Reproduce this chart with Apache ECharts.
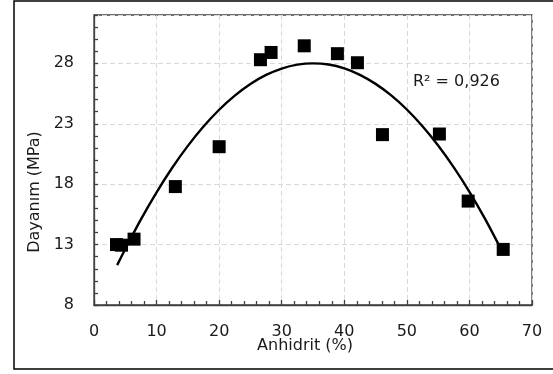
<!DOCTYPE html>
<html>
<head>
<meta charset="utf-8">
<script src="https://cdn.jsdelivr.net/npm/echarts@6/dist/echarts.min.js"></script>
<style>
  html, body { margin: 0; padding: 0; background: #fff; }
  #c1 { width: 553px; height: 374px; }
</style>
</head>
<body>
<div id="c1"></div>
<script>
// measured points
var anhidrit = [3.6, 4.4, 6.4, 13.0, 20.0, 26.6, 28.3, 33.6, 38.9, 42.1, 46.1, 55.2, 59.8, 65.4];
var dayanim = [13.0, 12.95, 13.45, 17.8, 21.1, 28.3, 28.9, 29.45, 28.8, 28.05, 22.1, 22.15, 16.6, 12.6];

// trend curve
var trendX = [3.7, 5, 7.5, 10, 12.5, 15, 17.5, 20, 22.5, 25, 27.5, 30, 32.5, 35,
  37.5, 40, 42.5, 45, 47.5, 50, 52.5, 55, 57.5, 60, 62.5, 65.4];
var trendY = [11.3, 12.64, 15.09, 17.33, 19.36, 21.17, 22.77, 24.16, 25.33, 26.29, 27.04, 27.57, 27.89, 28.0,
  27.9, 27.58, 27.05, 26.3, 25.35, 24.18, 22.79, 21.2, 19.39, 17.37, 15.13, 12.27];

var xTicks = [0, 10, 20, 30, 40, 50, 60, 70];
var yTicks = [8, 13, 18, 23, 28];
var r2Text = "R² = 0,926";

var pts = anhidrit.map(function (x, i) { return [x, dayanim[i]]; });
var trend = trendX.map(function (x, i) { return [x, trendY[i]]; });

var font = "DejaVu Sans";
var fs = 16;
var chartDom_1 = document.getElementById("c1");
var myChart_1 = echarts.init(chartDom_1);
var option_1;

option_1 = {
  animation: false,
  textStyle: { fontFamily: font },
  grid: {
    left: 94, right: 21, top: 15, bottom: 69,
    show: true, borderColor: "#404040", borderWidth: 1.3
  },
  xAxis: {
    type: "value",
    min: xTicks[0], max: xTicks[xTicks.length - 1], interval: 10,
    axisLine: { lineStyle: { color: "#404040", width: 1.3 } },
    axisTick: { inside: true, length: 5, lineStyle: { color: "#404040", width: 1.3 } },
    minorTick: { show: true, splitNumber: 5, length: 4, lineStyle: { color: "#404040", width: 1.3 } },
    axisLabel: { color: "#1a1a1a", fontSize: fs, fontFamily: font, margin: 19 },
    splitLine: { show: true, lineStyle: { color: "#d9d9d9", type: [5, 3], width: 1 } }
  },
  yAxis: [
    {
      type: "value",
      min: yTicks[0], max: 32, interval: 5,
      axisLine: { show: true, lineStyle: { color: "#404040", width: 1.3 } },
      axisTick: { show: false },
      axisLabel: { color: "#1a1a1a", fontSize: fs, fontFamily: font, margin: 20, showMaxLabel: false },
      splitLine: { show: true, lineStyle: { color: "#d9d9d9", type: [5, 3], width: 1 } }
    },
    {
      type: "value",
      position: "left",
      min: yTicks[0], max: 32, interval: 1,
      axisLine: { show: false },
      axisTick: { show: true, inside: true, length: 4, lineStyle: { color: "#404040", width: 1.3 } },
      axisLabel: { show: false },
      splitLine: { show: false }
    }
  ],
  graphic: [
    {
      type: "rect",
      shape: { x: 14, y: 1, width: 560, height: 368 },
      style: { fill: "none", stroke: "#000", lineWidth: 1.5 },
      silent: true
    },
    {
      type: "text",
      x: 305, y: 346,
      style: { text: "Anhidrit (%)", font: fs + "px " + font, fill: "#1a1a1a", textAlign: "center", textVerticalAlign: "middle" }
    },
    {
      type: "text",
      x: 35, y: 192, rotation: Math.PI / 2,
      style: { text: "Dayanım (MPa)", font: fs + "px " + font, fill: "#1a1a1a", textAlign: "center", textVerticalAlign: "middle" }
    },
    {
      type: "text",
      x: 413, y: 82,
      style: { text: r2Text, font: fs + "px " + font, fill: "#1a1a1a", textAlign: "left", textVerticalAlign: "middle" }
    }
  ],
  series: [
    {
      name: "trend",
      type: "line",
      data: trend,
      smooth: 0.3,
      symbol: "none",
      lineStyle: { color: "#000", width: 2.4 },
      z: 2
    },
    {
      name: "Dayanım",
      type: "scatter",
      data: pts,
      symbol: "rect",
      symbolSize: 13,
      itemStyle: { color: "#000", opacity: 1 },
      z: 3
    }
  ]
};

option_1 && myChart_1.setOption(option_1, true);
</script>
</body>
</html>
